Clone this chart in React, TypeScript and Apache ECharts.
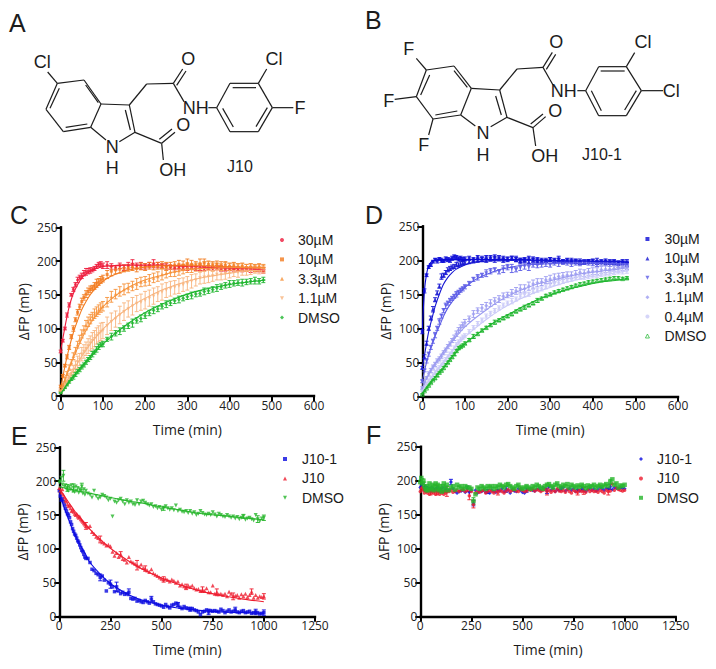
import React, { useEffect, useRef } from "react";
import * as echarts from "echarts";

const TIME_CD = [0,5,10,15,20,25,30,35,40,45,50,55,60,65,70,75,80,85,90,95,100,
  110,120,130,140,150,160,170,180,190,200,210,220,230,240,250,260,270,280,290,300,310,320,330,340,350,360,370,380,390,400,410,420,430,440,450,460,470,480];
const FIT_TIME_CD = [0,5,10,15,20,25,30,40,50,60,70,80,100,120,150,180,210,240,270,300,340,380,420,460,485];

const C30 = [66,82,100,120,135,150,158,165,172,176,178,182,184,185,186,187,189,192,195,195,193,
  194,192,190,193,190,193,196,193,193,192,194,196,194,193,192,191,190,191,190,190,191,189,190,189,190,189,190,189,188,189,188,188,187,188,187,188,187,186];
const C10 = [14,30,45,58,72,88,100,113,124,132,140,146,151,155,158,160,163,167,169,172,174,
  180,185,187,188,189,190,191,189,192,191,193,192,193,194,192,193,194,195,194,196,195,194,196,197,195,194,195,193,194,192,193,191,192,190,191,190,191,189];
const C3 = [8,16,24,33,42,50,59,67,76,84,92,98,105,110,114,118,122,125,128,131,133,
  139,147,151,155,158,160,163,166,169,170,172,175,177,180,182,184,185,186,188,190,189,191,190,192,193,191,192,191,192,191,192,191,191,190,191,189,190,190];
const C1 = [6,11,16,22,27,33,38,44,50,54,62,66,70,74,78,82,85,89,92,95,97,
  104,110,114,120,125,129,133,137,139,142,145,148,151,154,157,159,161,163,165,167,170,172,175,176,177,178,180,180,181,182,184,183,185,185,186,187,186,187];
const CD = [5,9,13,17,21,25,28,32,36,39,43,46,50,54,57,62,65,69,73,76,77,
  84,88,93,96,100,104,108,112,115,119,123,127,129,133,136,138,141,143,145,147,149,151,152,155,156,158,160,162,164,166,167,168,168,169,170,171,170,172];

const C30_ERR = [2,2,2,3,3,2,3,3,4,3,4,4,5,4,4,3,3,3,3,4,4,5,4,3,4,4,5,6,4,5,4,4,6,4,3,4,3,3,3,3,4,3,3,4,3,3,3,3,4,3,3,3,3,3,3,4,3,3,4];
const C10_ERR = [2,2,2,3,3,3,4,3,4,4,5,4,5,5,5,4,5,6,5,5,5,6,7,6,6,5,5,5,5,5,5,5,5,5,5,6,5,5,6,6,7,6,5,7,6,5,5,5,6,5,5,5,5,5,5,5,5,5,5];
const C3_ERR = [1,2,3,3,4,4,5,5,5,6,6,6,7,7,7,6,7,7,7,7,7,7,8,7,7,8,7,7,8,7,7,8,7,7,8,7,7,8,7,7,7,6,6,6,7,6,6,5,5,6,5,5,5,5,5,5,5,5,5];
const C1_ERR = [2,3,4,5,6,6,7,8,9,9,10,10,10,11,11,12,12,12,12,13,12,13,13,12,13,13,12,13,12,12,13,12,12,11,12,11,11,10,11,10,10,10,9,9,9,9,8,8,8,8,7,7,7,6,6,6,5,5,5];
const CD_ERR = [1,1,2,2,2,2,3,3,3,3,3,3,3,3,3,4,3,4,4,3,4,3,5,4,5,4,4,6,4,5,4,4,5,4,4,5,4,4,5,4,4,5,4,4,5,4,4,5,4,4,5,4,4,5,4,4,5,4,4];

const C30_FIT = [68,85,102,118,132,143,152,165,175,181,185,188,192,193,194,194,194,194,193,192,191,190,189,188,187];
const C10_FIT = [12,28,44,58,71,83,94,112,128,140,150,158,170,178,185,189,192,193,193,193,193,192,191,190,190];
const C3_FIT = [6,15,24,33,41,49,57,71,85,97,107,116,132,144,157,167,174,179,184,187,189,190,190,190,190];
const C1_FIT = [5,10,16,22,27,33,38,49,59,68,77,85,99,111,126,138,148,157,164,170,176,180,184,186,187];
const CD_FIT = [4,8,13,17,21,25,29,36,44,51,58,65,77,88,103,116,127,136,144,151,158,163,167,170,172];

const D30 = [95,155,178,190,193,198,201,199,202,200,199,202,201,200,203,205,204,202,203,201,202,
  203,201,204,202,204,203,205,202,203,201,203,202,200,201,203,202,201,200,199,201,200,202,199,200,198,199,197,198,199,198,197,198,199,197,198,196,197,196];
const D10 = [42,58,78,100,115,128,142,152,162,176,178,182,186,188,190,191,194,193,195,196,197,
  198,199,200,201,200,202,201,204,200,202,203,201,199,200,198,200,199,198,200,201,199,200,198,199,200,198,199,197,198,199,200,198,197,198,197,196,197,195];
const D3 = [22,38,52,62,72,81,90,100,110,118,126,133,137,141,144,147,150,153,156,158,161,
  166,172,175,178,181,184,186,183,187,190,188,186,189,191,190,193,192,194,195,193,196,195,197,196,194,196,195,197,196,195,194,196,195,194,195,193,194,192];
const D1 = [12,20,27,33,38,43,47,52,55,59,64,68,73,77,82,86,92,97,101,105,108,
  114,121,126,130,133,137,140,143,147,149,152,155,158,158,162,165,167,168,171,172,174,176,177,178,178,180,182,181,183,184,184,186,187,187,188,189,190,191];
const D04 = [8,13,18,23,27,31,35,39,42,46,50,54,58,62,66,71,76,80,84,87,89,
  95,101,107,112,118,122,126,130,134,137,140,143,147,150,150,154,156,158,161,164,166,167,169,171,172,174,175,176,177,178,179,180,181,182,183,184,184,185];
const DD = [3,8,12,16,20,24,27,31,35,38,42,46,50,54,58,62,67,71,73,75,78,
  83,88,92,97,101,105,109,112,115,118,121,125,128,131,134,137,141,144,148,150,153,155,157,159,161,163,165,166,168,169,170,171,172,173,174,174,173,174];

const D30_ERR = [3,3,2,2,2,2,2,3,2,3,2,3,3,3,3,3,3,3,3,3,3,3,3,3,4,3,4,3,3,3,3,3,4,3,3,3,3,3,3,2,3,3,4,2,3,3,3,3,3,2,3,3,2,3,3,3,3,4,5];
const D10_ERR = [2,3,3,3,3,4,3,3,3,4,3,3,3,3,3,3,3,3,3,3,3,3,3,3,3,3,3,4,3,3,3,3,3,4,3,3,3,3,3,3,3,3,3,3,3,3,3,3,3,3,3,3,3,3,3,3,3,3,4];
const D3_ERR = [2,2,3,3,3,3,4,3,4,3,3,4,3,3,3,3,4,3,3,3,3,3,3,4,3,5,4,3,3,5,4,6,3,4,4,5,3,3,4,4,3,3,4,3,3,3,3,3,3,3,3,3,3,3,3,3,3,4,5];
const D1_ERR = [2,2,2,3,3,3,3,3,3,3,3,3,3,3,3,4,4,4,4,4,5,4,5,4,5,5,5,5,5,5,4,5,5,6,6,6,6,6,5,5,6,6,5,5,5,5,5,5,5,5,5,5,5,5,4,4,5,5,5];
const D04_ERR = [1,2,2,2,2,3,3,3,3,3,3,3,3,3,3,3,3,3,3,3,3,3,3,3,3,3,3,3,3,3,3,4,3,3,4,3,3,3,3,3,3,3,3,3,3,3,3,3,4,4,4,4,4,4,4,4,4,4,4];
const DD_ERR = [1,1,1,1,1,1,2,2,1,1,2,2,2,2,2,2,2,2,2,2,2,2,3,2,2,2,2,3,2,2,2,2,2,2,3,2,2,3,2,2,2,2,2,2,2,2,2,2,2,2,2,2,2,2,2,2,2,2,2];

const D30_FIT = [95,155,180,192,197,199,200,201,201,201,201,201,201,201,201,201,201,201,200,200,199,199,198,198,197];
const D10_FIT = [42,60,78,95,108,120,132,150,165,175,182,187,193,197,199,200,200,200,200,199,199,199,198,198,197];
const D3_FIT = [22,37,50,61,71,80,89,103,118,130,139,147,160,170,179,186,190,193,194,195,196,196,196,195,195];
const D1_FIT = [12,19,26,32,38,43,48,57,66,74,81,88,102,113,127,140,150,158,165,170,176,181,184,187,190];
const D04_FIT = [8,13,18,23,27,31,35,43,51,59,67,74,87,98,113,126,137,146,154,160,168,174,178,182,185];
const DD_FIT = [3,8,12,16,20,24,28,35,42,50,58,65,77,87,101,113,123,133,142,149,157,163,168,171,174];

const TIME_EF = [0,5,10,15,20,25,30,35,40,45,50,55,60,65,70,75,80,85,90,95,100,105,110,115,120,125,130,
  140,150,160,170,180,190,200,210,220,230,
  240,250,260,270,280,290,300,310,320,330,
  340,350,360,370,380,390,400,410,420,430,
  440,450,460,470,480,490,500,510,520,530,
  540,550,560,570,580,590,600,610,620,630,
  640,650,660,670,680,690,700,710,720,730,
  740,750,760,770,780,790,800,810,820,830,
  840,850,860,870,880,890,900,910,920,930,
  940,950,960,970,980,990,1000];
const FIT_TIME_E = [0,25,50,75,100,125,150,200,250,300,350,400,500,600,700,800,900,1000];

const E_J101 = [186,178,172,174,170,165,160,156,152,150,146,140,136,130,126,122,120,116,112,110,106,102,98,96,92,88,86,
  86,80,70,68,64,62,58,60,54,38,
  50,48,44,37,44,38,34,36,33,34,
  36,27,26,27,23,24,22,21,24,22,
  20,26,22,19,18,17,16,14,18,15,
  13,17,18,20,18,14,12,15,13,12,
  11,12,10,9,7,3,7,8,10,7,
  9,8,9,8,7,11,9,6,8,10,
  7,8,10,7,6,8,9,6,7,8,
  5,6,7,6,4,5,6];
const E_J10 = [190,186,183,188,180,176,172,170,166,163,165,160,156,158,155,152,150,152,148,146,148,144,142,140,138,136,134,
  132,134,125,122,118,116,114,110,108,105,
  106,104,96,90,94,88,92,85,84,80,
  88,82,80,78,76,74,77,72,71,68,
  66,70,64,62,60,58,56,55,56,54,
  52,55,53,50,52,46,48,45,44,46,
  44,46,42,40,41,38,40,38,42,36,
  36,46,34,36,33,34,32,34,30,37,
  34,30,31,32,28,33,30,34,29,32,
  37,28,32,28,30,29,30];
const E_DMSO = [198,200,205,195,208,192,194,188,190,186,192,188,194,186,190,184,192,186,190,183,188,186,192,182,188,180,186,
  182,180,176,186,178,174,176,180,178,176,
  172,174,148,170,168,172,174,170,166,172,
  168,170,166,165,172,166,170,171,168,166,
  164,166,162,163,160,162,158,160,163,160,
  158,160,157,164,156,158,155,154,156,153,
  156,152,154,150,152,156,153,151,150,152,
  150,154,151,148,152,150,148,147,150,148,
  146,148,145,147,144,146,148,143,145,146,
  144,142,150,144,141,145,146];

const F_J101 = [190,192,195,190,186,192,188,190,186,188,184,190,186,188,185,188,186,190,184,187,188,185,190,184,186,188,185,
  186,198,188,184,182,184,185,186,183,188,
  183,186,167,186,182,185,184,186,183,184,
  182,186,184,183,186,185,188,184,187,186,
  182,187,185,184,188,186,183,182,186,187,
  188,186,185,187,188,186,190,188,185,191,
  186,188,184,187,186,188,190,185,187,189,
  186,188,184,187,185,188,186,184,187,189,
  186,188,185,187,190,188,186,189,188,191,
  187,190,189,188,190,189,188];
const F_J10 = [184,188,190,186,182,186,184,182,186,180,184,182,186,182,184,180,186,182,184,180,185,182,184,180,184,182,184,
  184,186,183,185,186,184,186,187,184,186,
  178,184,165,182,184,183,185,186,182,184,
  186,184,182,185,183,186,184,182,185,187,
  184,186,187,185,184,188,186,184,185,187,
  186,188,185,187,186,184,186,187,184,186,
  183,186,184,188,185,184,186,183,187,184,
  182,186,184,183,186,184,185,183,187,184,
  186,184,185,183,186,184,182,186,184,185,
  195,186,190,187,186,185,186];
const F_DMSO = [198,204,196,200,192,188,186,192,186,196,190,188,194,186,192,196,188,194,186,192,188,184,192,196,186,190,194,
  186,190,192,187,194,190,192,188,192,190,
  190,188,170,180,190,188,192,190,188,192,
  190,192,188,192,190,194,192,190,194,195,
  192,190,188,192,194,190,188,190,192,190,
  188,192,190,194,192,190,188,192,194,195,
  192,190,194,196,192,190,194,192,195,190,
  194,192,190,193,191,194,192,189,193,191,
  192,194,190,192,194,191,193,195,192,198,
  202,194,196,190,193,192,194];

const E_J101_FIT = [183,160,140,122,107,94,80,63,49,39,31,25,17,12,9,7,6,5];
const E_J10_FIT = [190,178,167,156,147,138,129,114,101,90,80,71,57,46,37,31,26,22];
const E_DMSO_FIT = [192,190,188,187,185,184,182,179,176,173,170,168,162,157,152,149,146,143];

const E_J101_ERR = [[200,5],[250,6],[280,7],[340,5],[450,4],[580,3],[640,3],[730,4],[860,4],[960,4],[1000,4]];
const E_J10_ERR = [[130,5],[200,5],[300,4],[380,7],[420,4],[510,4],[620,4],[700,4],[770,5],[850,5],[940,4],[1000,4]];
const E_DMSO_ERR = [[20,8],[40,5],[70,6],[110,5],[510,3],[900,3],[970,5],[1000,4]];
const F_J101_ERR = [[150,4],[230,4],[260,4],[330,3],[420,4],[520,3],[620,4],[690,3],[790,3],[930,4]];
const F_J10_ERR = [[50,5],[80,7],[130,7],[240,6],[260,5],[380,4],[620,5],[770,4],[800,5],[920,5]];
const F_DMSO_ERR = [[10,7],[20,6],[260,5],[930,4]];

const RED = "#ee1c3c";
const ORANGE1 = "#f27a1e";
const ORANGE2 = "#f6933c";
const ORANGE3 = "#f8b47e";
const GREEN = "#1db52d";
const BLUE1 = "#0a0ad6";
const BLUE2 = "#1616d2";
const BLUE3 = "#5c5ce6";
const BLUE4 = "#9c9cf0";
const BLUE5 = "#cacaf8";
const INV = "path://M0,0 L10,0 L5,10 Z";

type Def = {
  name: string; values: number[]; fit?: number[]; err?: number[]; errs?: number[][];
  color: string; symbol: string; size: number; hollow?: boolean;
};

const panelC: Def[] = [
  { name: "30µM", values: C30, fit: C30_FIT, err: C30_ERR, color: RED, symbol: "circle", size: 3 },
  { name: "10µM", values: C10, fit: C10_FIT, err: C10_ERR, color: ORANGE1, symbol: "rect", size: 3 },
  { name: "3.3µM", values: C3, fit: C3_FIT, err: C3_ERR, color: ORANGE2, symbol: "triangle", size: 3.5 },
  { name: "1.1µM", values: C1, fit: C1_FIT, err: C1_ERR, color: ORANGE3, symbol: INV, size: 3.5 },
  { name: "DMSO", values: CD, fit: CD_FIT, err: CD_ERR, color: GREEN, symbol: "diamond", size: 4 },
];
const panelD: Def[] = [
  { name: "30µM", values: D30, fit: D30_FIT, err: D30_ERR, color: BLUE1, symbol: "rect", size: 3 },
  { name: "10µM", values: D10, fit: D10_FIT, err: D10_ERR, color: BLUE2, symbol: "triangle", size: 4 },
  { name: "3.3µM", values: D3, fit: D3_FIT, err: D3_ERR, color: BLUE3, symbol: INV, size: 4 },
  { name: "1.1µM", values: D1, fit: D1_FIT, err: D1_ERR, color: BLUE4, symbol: "diamond", size: 4 },
  { name: "0.4µM", values: D04, fit: D04_FIT, err: D04_ERR, color: BLUE5, symbol: "circle", size: 3 },
  { name: "DMSO", values: DD, fit: DD_FIT, err: DD_ERR, color: GREEN, symbol: "triangle", size: 4, hollow: true },
];
const panelE: Def[] = [
  { name: "J10-1", values: E_J101, fit: E_J101_FIT, errs: E_J101_ERR, color: "#0a0ae0", symbol: "rect", size: 3.5 },
  { name: "J10", values: E_J10, fit: E_J10_FIT, errs: E_J10_ERR, color: "#ee1c2e", symbol: "triangle", size: 4 },
  { name: "DMSO", values: E_DMSO, fit: E_DMSO_FIT, errs: E_DMSO_ERR, color: "#26b52a", symbol: INV, size: 4 },
];
const panelF: Def[] = [
  { name: "J10-1", values: F_J101, errs: F_J101_ERR, color: "#0a0ae0", symbol: "diamond", size: 4 },
  { name: "J10", values: F_J10, errs: F_J10_ERR, color: "#ee1c2e", symbol: "circle", size: 3.5 },
  { name: "DMSO", values: F_DMSO, errs: F_DMSO_ERR, color: "#26b52a", symbol: "rect", size: 4.5 },
];

const buildSeries = (idx: number, times: number[], fitTimes: number[], defs: Def[], tag: string) => {
  const out: any[] = [];
  defs.forEach((d) => {
    const bars: number[][] = d.errs
      ? d.errs.map(([t, e]) => { const v = d.values[times.indexOf(t)]; return [t, v - e, v + e]; })
      : times.map((t, i) => [t, d.values[i] - (d.err?.[i] ?? 0), d.values[i] + (d.err?.[i] ?? 0)]);
    out.push({
      type: "custom", name: `${tag} ${d.name} error`, xAxisIndex: idx, yAxisIndex: idx,
      data: bars, encode: { x: 0, y: [1, 2] }, itemStyle: { color: d.color }, silent: true,
      renderItem: (_: any, api: any) => {
        const hi = api.coord([api.value(0), api.value(2)]);
        const lo = api.coord([api.value(0), api.value(1)]);
        const st = { stroke: d.color, lineWidth: 0.9, fill: "none" };
        return { type: "group", children: [
          { type: "line", shape: { x1: hi[0], y1: hi[1], x2: lo[0], y2: lo[1] }, style: st },
          { type: "line", shape: { x1: hi[0] - 2, y1: hi[1], x2: hi[0] + 2, y2: hi[1] }, style: st },
          { type: "line", shape: { x1: lo[0] - 2, y1: lo[1], x2: lo[0] + 2, y2: lo[1] }, style: st },
        ] };
      },
    });
    out.push({
      type: "scatter", name: d.name, xAxisIndex: idx, yAxisIndex: idx, clip: false, silent: true,
      data: times.map((t, i) => [t, d.values[i]]),
      symbol: d.symbol, symbolSize: d.size,
      itemStyle: d.hollow
        ? { color: "transparent", borderColor: d.color, borderWidth: 0.9 }
        : { color: d.color },
    });
    if (d.fit) {
      out.push({
        type: "line", name: `${tag} ${d.name} fit`, xAxisIndex: idx, yAxisIndex: idx, clip: false, silent: true,
        data: fitTimes.map((t, i) => [t, d.fit![i]]),
        showSymbol: false, smooth: 0.3, lineStyle: { color: d.color, width: 1.1 },
      });
    }
  });
  return out;
};

const legendOf = (defs: Def[], left: number, top: number, textGap: number, iconSize: number) => ({
  left, top, orient: "vertical", padding: 0, itemWidth: iconSize, itemHeight: iconSize, itemGap: 3.4,
  selectedMode: false,
  textStyle: { fontFamily: "Liberation Sans", fontSize: 14, color: "#1a1a1a", padding: [0, 0, 0, textGap], lineHeight: 16 },
  data: defs.map((d) => ({
    name: d.name,
    icon: d.symbol,
    itemStyle: d.hollow
      ? { color: "#fff", borderColor: d.color, borderWidth: 0.9 }
      : { color: d.color, borderWidth: 0 },
  })),
});

const AXIS_FONT = "Open Sans";
const axisStyle = { lineStyle: { color: "#000", width: 2.4, cap: "square" } };
const plain = (v: number) => String(v);
const xAxisOf = (idx: number, max: number, interval: number) => ({
  type: "value", gridIndex: idx, min: 0, max, interval,
  name: "Time (min)", nameLocation: "middle", nameGap: 26, nameMoveOverlap: false,
  nameTextStyle: { fontFamily: AXIS_FONT, fontSize: 14, color: "#1a1a1a" },
  axisLine: { show: true, onZero: false, ...axisStyle },
  axisTick: { show: true, length: 5, lineStyle: { color: "#000", width: 2 } },
  axisLabel: { fontFamily: AXIS_FONT, fontSize: 12, color: "#222", margin: 3, formatter: plain, showMinLabel: true, showMaxLabel: true },
  splitLine: { show: false },
});
const yAxisOf = (idx: number) => ({
  type: "value", gridIndex: idx, min: 0, max: 250, interval: 50,
  name: "ΔFP (mP)", nameLocation: "middle", nameGap: 30, nameMoveOverlap: false, nameRotate: 90,
  nameTextStyle: { fontFamily: AXIS_FONT, fontSize: 14, color: "#1a1a1a", align: "center", verticalAlign: "bottom" },
  axisLine: { show: true, onZero: false, ...axisStyle },
  axisTick: { show: true, length: 5, lineStyle: { color: "#000", width: 2 } },
  axisLabel: { fontFamily: AXIS_FONT, fontSize: 12, color: "#222", margin: 3, formatter: plain, showMinLabel: true, showMaxLabel: true },
  splitLine: { show: false },
});

const INK = "#1c1c1c";
const STRUCT_A_BONDS = [
  [172,250,252,240],[252,240,303,312],[303,312,272,382],[272,382,190,395],[190,395,138,328],[138,328,172,250],
  [150,325,178,265],[257,255,295,308],[197,382,262,372],[172,250,143,216],
  [303,312,388,315],[388,315,405,397],[405,397,358,425],[272,382,318,420],[376,330,391,390],
  [388,315,440,252],[440,252,520,250],[520,250,548,207],[530,256,558,213],[520,250,552,305],[625,323,650,323],
  [650,323,690,250],[690,250,775,250],[775,250,817,323],[817,323,775,395],[775,395,690,395],[690,395,650,323],
  [698,263,768,263],[802,323,768,380],[668,325,700,381],[775,250,800,207],[817,323,880,323],
  [405,397,485,430],[485,430,525,397],[478,418,516,387],[485,430,490,480],
];
const STRUCT_A_LABELS: [string, number, number][] = [
  ["Cl",127,185],["O",565,178],["Cl",822,178],["NH",587,325],["F",900,323],["O",550,375],["N",337,440],["H",337,505],["OH",518,510],
];
const STRUCT_B_BONDS = [
  [205,210,288,198],[288,198,340,265],[340,265,308,345],[308,345,225,357],[225,357,175,290],[175,290,205,210],
  [215,225,188,285],[288,212,328,262],[232,345,298,333],
  [205,210,175,175],[175,290,110,298],[225,357,212,405],
  [340,265,425,270],[425,270,447,352],[447,352,398,380],[308,345,352,378],[413,288,430,345],
  [425,270,477,207],[477,207,555,202],[555,202,583,157],[565,208,593,163],[555,202,585,255],[658,272,683,272],
  [683,272,722,200],[722,200,805,200],[805,200,850,272],[850,272,805,347],[805,347,722,347],[722,347,683,272],
  [728,213,800,213],[835,272,800,330],[700,272,730,332],[805,200,830,158],[850,272,915,272],
  [447,352,525,383],[525,383,563,350],[518,372,555,342],[525,383,533,438],
];
const STRUCT_B_LABELS: [string, number, number][] = [
  ["F",152,147],["F",92,303],["F",197,435],["O",595,127],["Cl",855,125],["NH",617,272],["Cl",940,272],["O",592,332],["N",375,398],["H",375,465],["OH",560,467],
];
const PANEL_LETTERS: [string, number, number][] = [
  ["A",9,23],["B",365,20],["C",10,215],["D",365,215],["E",11,436],["F",366,435],
];

const structure = (bonds: number[][], labels: [string, number, number][], ox: number) => [
  ...bonds.map(([x1, y1, x2, y2]) => ({
    type: "line", silent: true,
    shape: { x1: ox + x1 / 3, y1: y1 / 3, x2: ox + x2 / 3, y2: y2 / 3 },
    style: { stroke: INK, lineWidth: 1.2 },
  })),
  ...labels.map(([t, x, y]) => ({
    type: "text", silent: true, x: ox + x / 3, y: y / 3,
    style: { text: t, fontFamily: "Liberation Sans", fontSize: 18, fill: INK, align: "center", verticalAlign: "middle" },
  })),
];

const caption = (t: string, x: number, y: number) => ({
  type: "text", silent: true, x, y,
  style: { text: t, fontFamily: "Liberation Sans", fontSize: 16, fill: INK, align: "center", verticalAlign: "middle" },
});

export default function App() {
  const ref = useRef<HTMLDivElement>(null);
  useEffect(() => {
    const chart = echarts.init(ref.current!, null, { renderer: "svg" });
    chart.setOption({
      animation: false,
      backgroundColor: "#fff",
      grid: [
        { left: 60.7, top: 227.3, width: 253.3, height: 168.7 },
        { left: 422.3, top: 226.3, width: 255.7, height: 170 },
        { left: 59.3, top: 447.3, width: 255.7, height: 169.4 },
        { left: 420.3, top: 446.7, width: 255.4, height: 170 },
      ],
      xAxis: [xAxisOf(0, 600, 100), xAxisOf(1, 600, 100), xAxisOf(2, 1250, 250), xAxisOf(3, 1250, 250)],
      yAxis: [yAxisOf(0), yAxisOf(1), yAxisOf(2), yAxisOf(3)],
      legend: [
        legendOf(panelC, 280, 232, 9, 4),
        legendOf(panelD, 645, 231, 10, 4),
        legendOf(panelE, 283, 451, 10, 4),
        legendOf(panelF, 639, 451, 9, 4),
      ],
      series: [
        ...buildSeries(0, TIME_CD, FIT_TIME_CD, panelC, "C"),
        ...buildSeries(1, TIME_CD, FIT_TIME_CD, panelD, "D"),
        ...buildSeries(2, TIME_EF, FIT_TIME_E, panelE, "E"),
        ...buildSeries(3, TIME_EF, FIT_TIME_E, panelF, "F"),
      ],
      graphic: [
        ...structure(STRUCT_A_BONDS, STRUCT_A_LABELS, 0),
        ...structure(STRUCT_B_BONDS, STRUCT_B_LABELS, 358),
        caption("J10", 240, 166),
        caption("J10-1", 358 + 244, 154),
        ...PANEL_LETTERS.map(([t, x, y]) => ({
          type: "text", silent: true, x, y,
          style: { text: t, fontFamily: "Liberation Sans", fontSize: 25, fill: INK, align: "left", verticalAlign: "middle" },
        })),
      ],
    });
    return () => chart.dispose();
  }, []);
  return <div ref={ref} style={{ position: "fixed", left: 0, top: 0, width: 716, height: 669, background: "#fff" }} />;
}
